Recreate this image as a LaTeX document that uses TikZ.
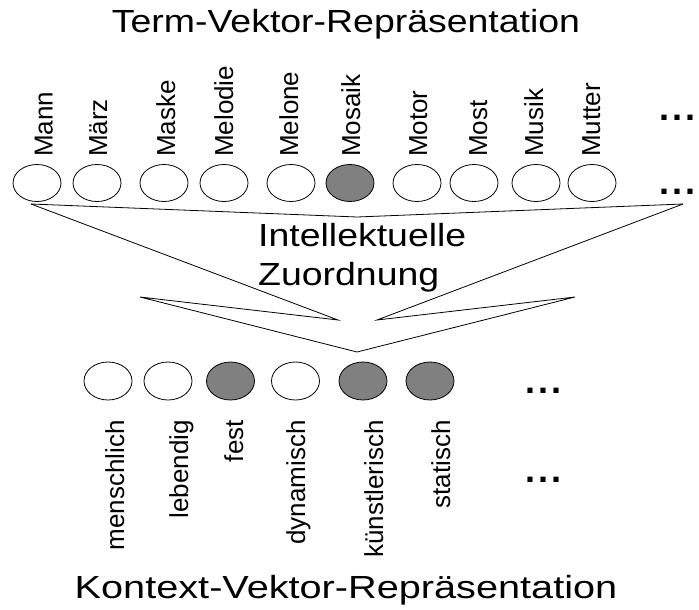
\documentclass[tikz,border=0pt]{standalone}
\usepackage{graphicx}
\usepackage{fontspec}
\setmainfont{Liberation Sans}
\usetikzlibrary{shapes.geometric}
\definecolor{fillgray}{HTML}{808080}
\newcommand{\widetxt}[1]{\scalebox{1.17}[1]{#1}}
\newcommand{\mydots}{.\hspace{3pt}.\hspace{3pt}.}
\begin{document}
\begin{tikzpicture}[x=1pt,y=-1pt,
  oval/.style={ellipse,draw=black,line width=0.8pt,minimum width=48pt,minimum height=37pt,inner sep=0pt,fill=white},
  onoval/.style={oval,fill=fillgray},
  lab/.style={rotate=90,inner sep=0pt,font=\fontsize{26}{30}\selectfont},
  big/.style={inner sep=0pt,font=\fontsize{32}{38}\selectfont},
  dotsty/.style={inner sep=0pt,font=\fontsize{36}{40}\selectfont\bfseries},
  ln/.style={line width=0.8pt,line join=miter}]
\useasboundingbox (0,0) rectangle (699,610);

% titles
\node[big,anchor=base] (ttop) at (346,33) {\widetxt{Term-Vektor-Repräsentation}};
\node[big,anchor=base] (tbot) at (346,598) {\scalebox{1.24}[1]{Kontext-Vektor-Repräsentation}};

% top ellipses
\foreach \n/\x in {mann/37,maerz/97,maske/164,melodie/224,melone/291,motor/417,most/474,musik/536,mutter/592}
  \node[oval] (\n) at (\x,183) {};
\node[onoval] (mosaik) at (350,183) {};

% top labels
\node[lab,anchor=base west] (lmann) at (52.5,157) {Mann};
\node[lab,anchor=base west] (lmaerz) at (107,157) {März};
\node[lab,anchor=base west] (lmaske) at (175,157) {Maske};
\node[lab,anchor=base west] (lmelodie) at (233,157) {Melodie};
\node[lab,anchor=base west] (lmelone) at (298,157) {Melone};
\node[lab,anchor=base west] (lmosaik) at (360,157) {Mosaik};
\node[lab,anchor=base west] (lmotor) at (427,157) {Motor};
\node[lab,anchor=base west] (lmost) at (487,157) {Most};
\node[lab,anchor=base west] (lmusik) at (543,157) {Musik};
\node[lab,anchor=base west] (lmutter) at (600,157) {Mutter};

% dots
\node[dotsty,anchor=base west] (d1) at (659,121) {\mydots};
\node[dotsty,anchor=base west] (d2) at (659,194) {\mydots};
\node[dotsty,anchor=base west] (d3) at (525,393) {\mydots};
\node[dotsty,anchor=base west] (d4) at (525,482) {\mydots};

% arrow outline
\coordinate (L) at (31,204);
\coordinate (R) at (683,204);
\coordinate (M) at (357,217);
\coordinate (SL) at (338,320);
\coordinate (SR) at (377,320);
\coordinate (TL) at (140,297);
\coordinate (TR) at (575,297);
\coordinate (B) at (357,352);
\draw[ln] (L) -- (M) -- (R);
\draw[ln] (L) -- (SL) -- (TL) -- (B) -- (TR) -- (SR) -- (R);

% middle text
\node[big,anchor=base west] (int1) at (258,246) {\widetxt{Intellektuelle}};
\node[big,anchor=base west] (int2) at (258,285) {\widetxt{Zuordnung}};

% bottom ellipses
\node[oval,minimum height=38pt] (menschlich) at (108,381) {};
\node[oval,minimum height=38pt] (lebendig) at (168,381) {};
\node[onoval,minimum height=38pt] (fest) at (230.5,381) {};
\node[oval,minimum height=38pt] (dynamisch) at (295.5,381) {};
\node[onoval,minimum height=38pt] (kuenstlerisch) at (363,381) {};
\node[onoval,minimum height=38pt] (statisch) at (430,381) {};

% bottom labels
\node[lab,anchor=base east] (lmenschlich) at (124,420) {menschlich};
\node[lab,anchor=base east] (llebendig) at (188,420) {lebendig};
\node[lab,anchor=base east] (lfest) at (243,420) {fest};
\node[lab,anchor=base east] (ldynamisch) at (305,420) {dynamisch};
\node[lab,anchor=base east] (lkuenstlerisch) at (383,420) {künstlerisch};
\node[lab,anchor=base east] (lstatisch) at (450,420) {statisch};
\end{tikzpicture}
\end{document}
